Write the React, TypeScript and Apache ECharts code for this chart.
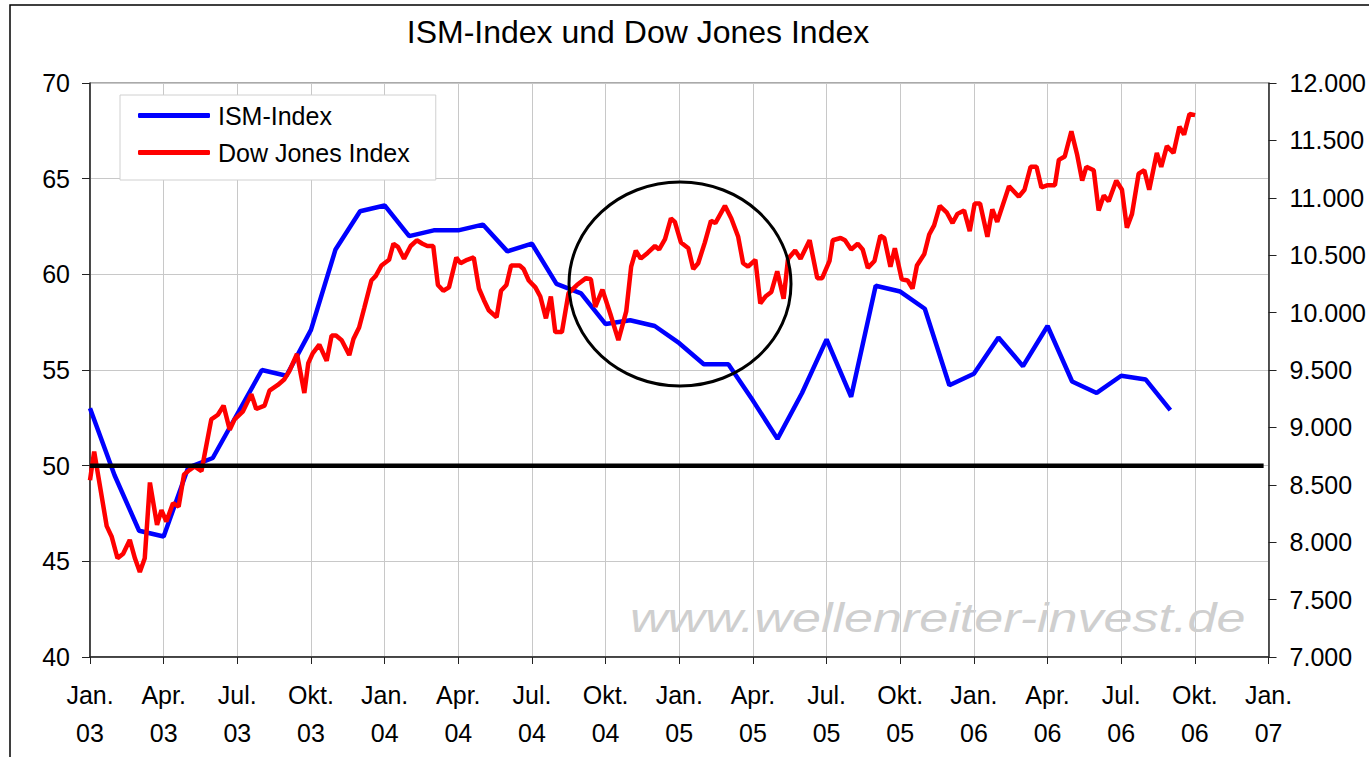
import React, { useEffect, useRef } from "react";
import * as echarts from "echarts";

const quarterNames = ["Jan.", "Apr.", "Jul.", "Okt."];
const startYear = 2003;
const titleText = "ISM-Index und Dow Jones Index";
const watermarkText = "www.wellenreiter-invest.de";
const ismName = "ISM-Index";
const dowName = "Dow Jones Index";

// ISM-Index, monthly from Jan 2003 (month index 0) to Sep 2006
const ismValues = [
  53.0, 49.5, 46.6, 46.3, 49.9, 50.4, 52.7, 55.0, 54.7, 57.1, 61.3, 63.3,
  63.6, 62.0, 62.3, 62.3, 62.6, 61.2, 61.6, 59.5, 59.0, 57.4, 57.6, 57.3,
  56.4, 55.3, 55.3, 53.4, 51.4, 53.8, 56.6, 53.6, 59.4, 59.1, 58.2, 54.2,
  54.8, 56.7, 55.2, 57.3, 54.4, 53.8, 54.7, 54.5, 52.9,
];

// Dow Jones Index, roughly weekly closes; x in months since Jan 2003
const dowMonths = [
  0.0, 0.17, 0.68, 0.88, 1.12, 1.35, 1.62, 1.83, 2.03, 2.23, 2.44, 2.73, 2.91, 3.11, 3.38, 3.61, 3.83, 4.06, 4.26, 4.54,
  4.94, 5.21, 5.44, 5.69, 5.89, 6.23, 6.57, 6.77, 7.11, 7.31, 7.65, 7.92, 8.12, 8.43, 8.73, 8.89, 9.07, 9.34, 9.64, 9.84,
  10.02, 10.25, 10.56, 10.73, 10.96, 11.17, 11.46, 11.64, 11.87, 12.18, 12.36, 12.55, 12.79, 13.06, 13.31, 13.54, 13.74, 13.98, 14.17, 14.39,
  14.62, 14.92, 15.09, 15.36, 15.63, 15.84, 16.04, 16.24, 16.56, 16.74, 16.96, 17.15, 17.5, 17.66, 17.87, 18.14, 18.34, 18.57, 18.77, 18.95,
  19.22, 19.49, 19.83, 20.2, 20.4, 20.58, 20.87, 21.19, 21.52, 21.84, 22.04, 22.23, 22.43, 22.71, 23.01, 23.18, 23.42, 23.66, 23.82, 24.07,
  24.37, 24.57, 24.77, 25.04, 25.29, 25.47, 25.86, 26.12, 26.4, 26.6, 26.8, 27.1, 27.3, 27.51, 27.75, 27.99, 28.25, 28.43, 28.72, 28.94,
  29.31, 29.62, 29.82, 30.12, 30.25, 30.57, 30.75, 31.0, 31.27, 31.47, 31.68, 31.95, 32.19, 32.35, 32.6, 32.78, 33.06, 33.3, 33.5, 33.68,
  33.98, 34.18, 34.38, 34.61, 34.9, 35.13, 35.33, 35.6, 35.83, 36.03, 36.25, 36.55, 36.75, 36.95, 37.43, 37.83, 38.06, 38.31, 38.55, 38.75,
  39.01, 39.3, 39.46, 39.7, 39.97, 40.2, 40.41, 40.58, 40.88, 41.08, 41.29, 41.49, 41.8, 42.03, 42.23, 42.44, 42.71, 42.94, 43.14, 43.45,
  43.63, 43.86, 44.13, 44.37, 44.56, 44.78, 45.01,
];
const dowValues = [
  8540, 8790, 8140, 8050, 7860, 7900, 8020, 7860, 7740, 7860, 8520, 8150, 8280, 8180, 8340, 8310, 8590, 8630, 8660, 8620,
  9070, 9110, 9190, 8980, 9070, 9140, 9290, 9160, 9190, 9320, 9370, 9420, 9490, 9640, 9300, 9560, 9645, 9720, 9580, 9800,
  9800, 9760, 9630, 9770, 9870, 10040, 10280, 10320, 10410, 10460, 10600, 10570, 10470, 10580, 10630, 10600, 10580, 10580, 10240, 10190,
  10220, 10480, 10430, 10460, 10480, 10210, 10110, 10020, 9960, 10190, 10240, 10410, 10410, 10380, 10280, 10220, 10140, 9950, 10140, 9830,
  9830, 10170, 10240, 10300, 10290, 10050, 10200, 9990, 9760, 10010, 10400, 10540, 10470, 10520, 10580, 10550, 10640, 10820, 10790, 10610,
  10560, 10380, 10430, 10610, 10800, 10780, 10930, 10820, 10660, 10430, 10400, 10460, 10080, 10140, 10180, 10360, 10120, 10470, 10540, 10470,
  10630, 10300, 10300, 10450, 10630, 10650, 10630, 10550, 10600, 10550, 10390, 10450, 10670, 10650, 10400, 10560, 10290, 10280, 10210, 10410,
  10510, 10680, 10760, 10930, 10870, 10780, 10860, 10890, 10710, 10950, 10950, 10660, 10900, 10790, 11100, 11010, 11070, 11270, 11270, 11090,
  11110, 11110, 11330, 11360, 11580, 11380, 11150, 11270, 11240, 10890, 11020, 10970, 11150, 11070, 10740, 10860, 11210, 11240, 11070, 11390,
  11270, 11450, 11390, 11620, 11550, 11730, 11720,
];

// reference line at ISM = 50
const threshold = 50;
const thresholdStart = 0;
const thresholdEnd = 47.8;

const FONT = "'Liberation Sans', Arial, Helvetica, sans-serif";

function fmtThousands(v: number): string {
  const s = String(Math.round(v));
  return s.replace(/\B(?=(\d{3})+(?!\d))/g, ".");
}

export default function App() {
  const ref = useRef<HTMLDivElement>(null);
  useEffect(() => {
    const chart = echarts.init(ref.current!, null, { renderer: "svg" });
    const n = Math.min(dowMonths.length, dowValues.length);
    const dowData = [] as number[][];
    for (let i = 0; i < n; i++) dowData.push([dowMonths[i], dowValues[i]]);
    chart.setOption({
      animation: false,
      backgroundColor: "#ffffff",
      textStyle: { fontFamily: FONT },
      grid: {
        left: 90,
        right: 97,
        top: 83,
        bottom: 100,
        show: true,
        borderColor: "#555",
        borderWidth: 1,
        containLabel: false,
      },
      legend: {
        data: [ismName, dowName],
        orient: "vertical",
        left: 120,
        top: 95,
        padding: [8, 26, 15, 18],
        itemGap: 12,
        itemWidth: 72,
        itemHeight: 5,
        icon: "roundRect",
        borderColor: "#d0d0d0",
        borderWidth: 1,
        backgroundColor: "#fff",
        textStyle: { fontSize: 25, color: "#000", fontFamily: FONT, padding: [0, 0, 0, 3] },
      },
      xAxis: {
        type: "value",
        min: 0,
        max: 48,
        interval: 3,
        axisLine: { show: true, onZero: false, lineStyle: { color: "#222", width: 1.5 } },
        axisTick: { show: true, length: 7, lineStyle: { color: "#222" } },
        splitLine: { show: true, lineStyle: { color: "#c8c8c8", width: 1 } },
        axisLabel: {
          margin: 19,
          fontSize: 25,
          lineHeight: 38,
          color: "#000",
          showMinLabel: true,
          showMaxLabel: true,
          formatter: (v: number) => {
            const q = Math.round(v / 3) % 4;
            const y = (startYear + Math.floor(Math.round(v) / 12)) % 100;
            return quarterNames[q] + "\n" + String(y).padStart(2, "0");
          },
        },
      },
      yAxis: [
        {
          type: "value",
          min: 40,
          max: 70,
          interval: 5,
          position: "left",
          axisLine: { show: true, lineStyle: { color: "#222", width: 1.5 } },
          axisTick: { show: true, length: 8, lineStyle: { color: "#222" } },
          splitLine: { show: true, lineStyle: { color: "#c8c8c8", width: 1 } },
          axisLabel: { margin: 20, fontSize: 25, color: "#000" },
        },
        {
          type: "value",
          min: 7000,
          max: 12000,
          interval: 500,
          position: "right",
          axisLine: { show: true, lineStyle: { color: "#222", width: 1.5 } },
          axisTick: { show: true, length: 8, lineStyle: { color: "#222" } },
          splitLine: { show: false },
          axisLabel: {
            margin: 21,
            fontSize: 25,
            color: "#000",
            formatter: (v: number) => fmtThousands(v),
          },
        },
      ],
      series: [
        {
          name: ismName,
          type: "line",
          yAxisIndex: 0,
          symbol: "none",
          lineStyle: { color: "#0000ff", width: 4.5 },
          itemStyle: { color: "#0000ff" },
          data: ismValues.map((v, i) => [i, v]),
          z: 3,
        },
        {
          name: dowName,
          type: "line",
          yAxisIndex: 1,
          symbol: "none",
          lineStyle: { color: "#ff0000", width: 4.5 },
          itemStyle: { color: "#ff0000" },
          data: dowData,
          z: 4,
        },
        {
          name: "ref50",
          type: "line",
          yAxisIndex: 0,
          symbol: "none",
          silent: true,
          lineStyle: { color: "#000", width: 4.5 },
          data: [
            [thresholdStart, threshold],
            [thresholdEnd, threshold],
          ],
          z: 5,
        },
      ],
      graphic: [
        {
          type: "rect",
          shape: { x: 10, y: 5, width: 1400, height: 800 },
          style: { fill: "none", stroke: "#000", lineWidth: 1.5 },
          z: 0,
          silent: true,
        },
        {
          type: "text",
          x: 638,
          y: 32,
          style: {
            text: titleText,
            font: "32px " + FONT,
            fill: "#000",
            align: "center",
            verticalAlign: "middle",
          },
          z: 10,
        },
        {
          type: "text",
          x: 630,
          y: 618,
          scaleX: 1.27,
          style: {
            text: watermarkText,
            font: "italic 41px " + FONT,
            fill: "#cfcfcf",
            align: "left",
            verticalAlign: "middle",
          },
          z: 1,
        },
        {
          type: "ellipse",
          shape: { cx: 680, cy: 284, rx: 111, ry: 102 },
          style: { fill: "none", stroke: "#000", lineWidth: 3 },
          z: 20,
        },
      ],
    });
    return () => chart.dispose();
  }, []);
  return (
    <div
      ref={ref}
      style={{ position: "fixed", left: 0, top: 0, width: 1369, height: 757 }}
    />
  );
}
